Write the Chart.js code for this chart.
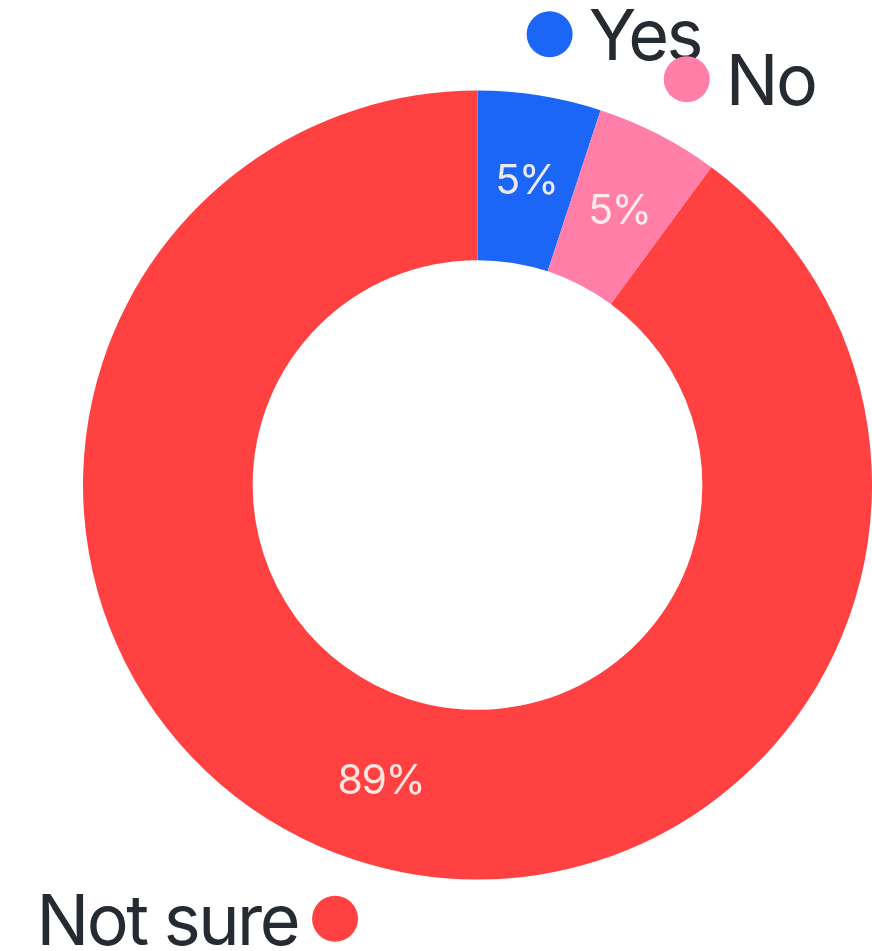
<!DOCTYPE html>
<html>
<head>
<meta charset="utf-8">
<script src="https://cdn.jsdelivr.net/npm/chart.js@4"></script>
<style>
  html, body { margin: 0; padding: 0; background: #ffffff; }
  #wrap { width: 872px; height: 951px; }
</style>
</head>
<body>
<div id="wrap"><canvas id="chart" width="872" height="951"></canvas></div>
<script>
// Survey answers and their shares (percent)
const answers = ['Yes', 'No', 'Not sure'];
const shares = [5, 5, 89];
const sliceColors = ['#1c66f7', '#ff7fa8', '#ff4141'];

const FONT = 'Inter, "Noto Sans", sans-serif';

// Percent text inside each slice plus a dot + name outside the ring
const sliceLabels = {
  id: 'sliceLabels',
  afterDatasetsDraw(chart) {
    const ctx = chart.ctx;
    const meta = chart.getDatasetMeta(0);
    meta.data.forEach((arc, i) => {
      const p = arc.getProps(['x', 'y', 'startAngle', 'endAngle', 'innerRadius', 'outerRadius'], true);
      const mid = (p.startAngle + p.endAngle) / 2;
      const cos = Math.cos(mid), sin = Math.sin(mid);

      // value inside the ring
      const rIn = (p.innerRadius + p.outerRadius) / 2;
      ctx.save();
      ctx.font = '400 41px ' + FONT;
      ctx.letterSpacing = '-1.5px';
      ctx.fillStyle = 'rgba(255,244,240,0.92)';
      ctx.textAlign = 'center';
      ctx.textBaseline = 'middle';
      ctx.fillText(shares[i] + '%', p.x + rIn * cos, p.y + rIn * sin + 2);
      ctx.restore();

      // marker dot and category name outside the ring
      const rOut = p.outerRadius + 62;
      const dx = p.x + rOut * cos, dy = p.y + rOut * sin;
      ctx.save();
      ctx.beginPath();
      ctx.arc(dx, dy, 23, 0, Math.PI * 2);
      ctx.fillStyle = sliceColors[i];
      ctx.fill();
      ctx.font = '400 70px ' + FONT;
      ctx.letterSpacing = '-2.5px';
      ctx.fillStyle = '#262a31';
      ctx.textBaseline = 'alphabetic';
      const base = dy + 26;
      if (cos >= 0) {
        ctx.textAlign = 'left';
        ctx.fillText(answers[i], dx + 39, base);
      } else {
        ctx.textAlign = 'right';
        ctx.fillText(answers[i], dx - 37, base);
      }
      ctx.restore();
    });
  }
};

new Chart(document.getElementById('chart'), {
  type: 'doughnut',
  data: {
    labels: answers,
    datasets: [{
      data: shares,
      backgroundColor: sliceColors,
      borderWidth: 0,
      hoverOffset: 0
    }]
  },
  options: {
    responsive: false,
    animation: false,
    cutout: '57%',
    layout: { padding: { left: 83, right: 0, top: 90, bottom: 71 } },
    plugins: {
      legend: { display: false },
      tooltip: { enabled: false }
    }
  },
  plugins: [sliceLabels]
});
</script>
</body>
</html>
